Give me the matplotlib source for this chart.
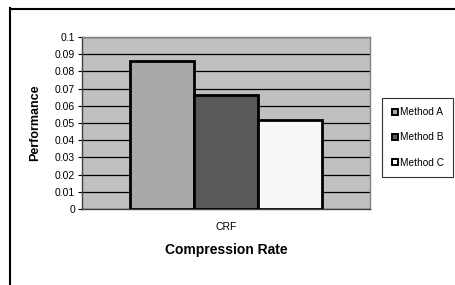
import matplotlib
matplotlib.use("Agg")
import matplotlib.pyplot as plt
from matplotlib.lines import Line2D

categories = ["CRF"]
methods = ["Method A", "Method B", "Method C"]
values = [0.086, 0.066, 0.052]
colors = ["#a8a8a8", "#595959", "#f8f8f8"]
yticks = [0, 0.01, 0.02, 0.03, 0.04, 0.05, 0.06, 0.07, 0.08, 0.09, 0.1]
yticklabels = ["0", "0.01", "0.02", "0.03", "0.04", "0.05", "0.06", "0.07", "0.08", "0.09", "0.1"]

plt.rcParams['font.family'] = ['Liberation Sans', 'DejaVu Sans']

W, H = 456, 285
fig = plt.figure(figsize=(W / 100, H / 100), dpi=100)

# outer frame (left and top visible)
fig.add_artist(Line2D([10.5 / W, 10.5 / W], [0, 1 - 8 / H], transform=fig.transFigure, color="black", lw=1.5))
fig.add_artist(Line2D([10 / W, 1], [1 - 8.5 / H, 1 - 8.5 / H], transform=fig.transFigure, color="black", lw=1.5))

x0, x1 = 82, 370
y0, y1 = 37, 209
ax = fig.add_axes([x0 / W, 1 - y1 / H, (x1 - x0) / W, (y1 - y0) / H])
ax.set_facecolor("#c0c0c0")

n = len(methods)
width = 1.0 / 3 * 2 / n
for i, (m, v, c) in enumerate(zip(methods, values, colors)):
    pos = 0 - (n * width) / 2 + width * (i + 0.5)
    ax.bar(pos, v, width=width, color=c, edgecolor="black", linewidth=2, label=m, zorder=3)

ax.set_xlim(-0.5, 0.5)
ax.set_ylim(0, 0.1)
ax.set_yticks(yticks)
ax.set_yticklabels(yticklabels, fontsize=7.5)
ax.yaxis.grid(True, color="black", linewidth=0.9, zorder=1)
ax.set_axisbelow(True)
ax.set_xticks([0])
ax.set_xticklabels(categories, fontsize=7.5)
ax.tick_params(axis="x", length=0, pad=9)
ax.tick_params(axis="y", length=3, width=0.8, pad=2, direction="out")

for s in ["top", "right"]:
    ax.spines[s].set_color("#808080")
    ax.spines[s].set_linewidth(1)
ax.spines["left"].set_color("#404040")
ax.spines["bottom"].set_color("#404040")
ax.spines["left"].set_linewidth(1)
ax.spines["bottom"].set_linewidth(1)

ax.set_ylabel("Performance", fontsize=9, fontweight="bold", labelpad=10)
ax.set_xlabel("Compression Rate", fontsize=10, fontweight="bold", labelpad=8)

handles = [Line2D([], [], marker="s", linestyle="none", markersize=4,
                  markerfacecolor=c, markeredgecolor="black", markeredgewidth=1.4)
           for c in colors]
leg = fig.legend(handles, methods, loc="upper left",
                 bbox_to_anchor=(382 / W, 1 - 98 / H), bbox_transform=fig.transFigure,
                 fontsize=7.3, frameon=True, fancybox=False, edgecolor="black",
                 handlelength=0.75, handletextpad=0.1, labelspacing=1.5,
                 borderpad=0.9, borderaxespad=0)
leg.get_frame().set_linewidth(0.8)

fig.savefig("out.png", dpi=100)
